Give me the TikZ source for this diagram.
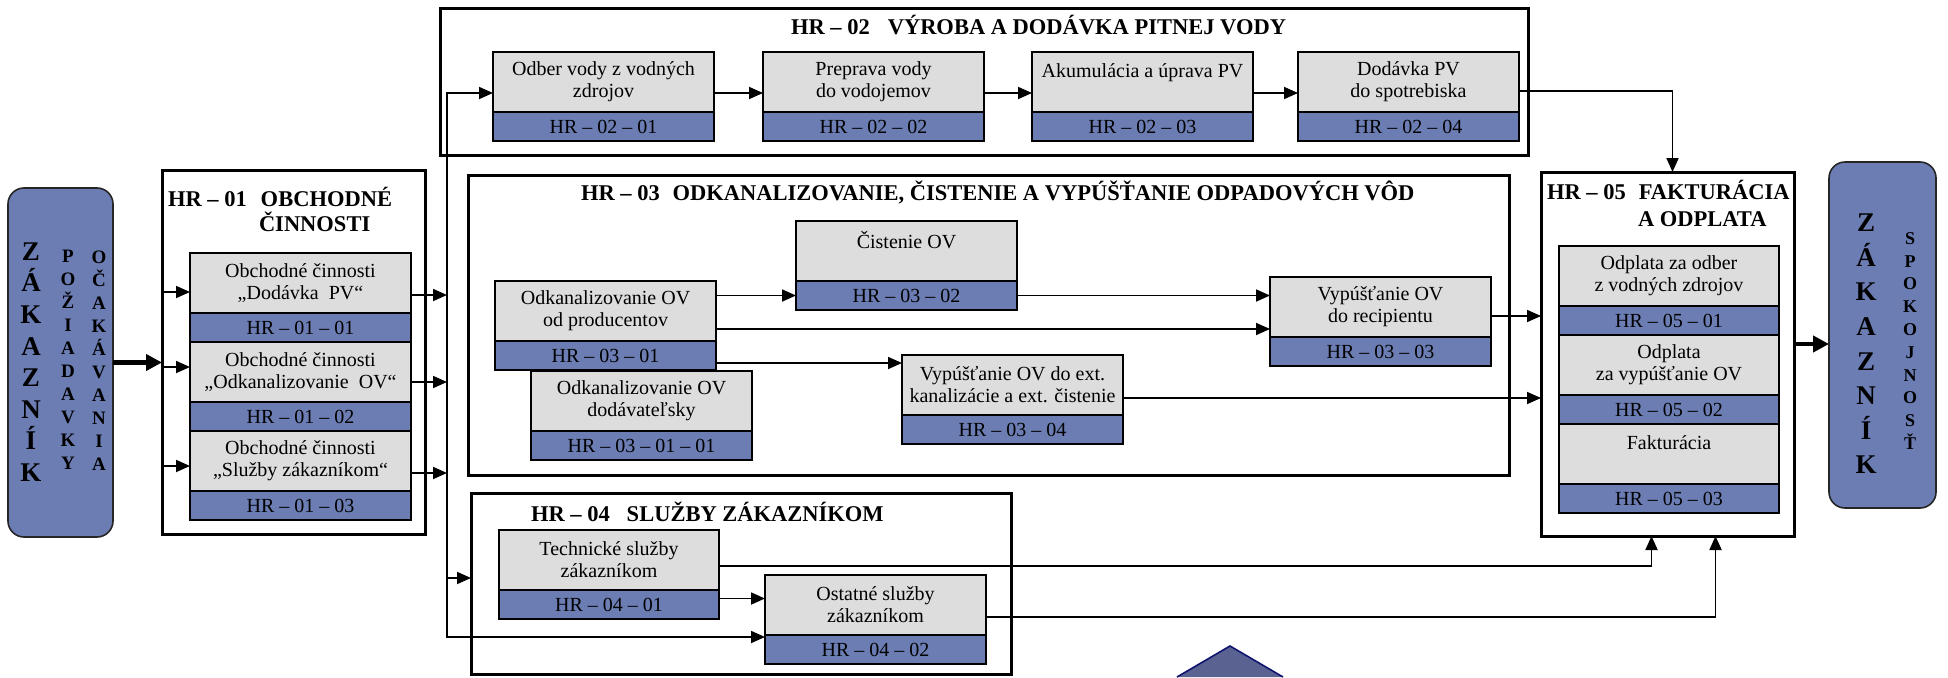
\documentclass[tikz,border=0pt]{standalone}
\usepackage{fontspec}
\setmainfont{Liberation Serif}
\usetikzlibrary{arrows.meta}

\definecolor{boxgray}{RGB}{221,221,221}
\definecolor{boxblue}{RGB}{107,125,179}
\definecolor{trifill}{RGB}{90,98,145}
\definecolor{triline}{RGB}{16,20,110}

\newcommand{\txtfont}{\fontsize{20}{22}\selectfont}
\newcommand{\ttlfont}{\fontsize{22.5}{26}\selectfont\bfseries}

\begin{document}
\begin{tikzpicture}[x=1pt,y=-1pt,
  every node/.style={outer sep=0pt},
  conn/.style={line width=1.8pt,-{Triangle[length=14pt,width=12pt]}},
  fat/.style={line width=4.5pt,-{Triangle[length=16pt,width=16pt]}},
  grp/.style={draw,line width=3pt,anchor=north west,inner sep=0pt},
  cust/.style={draw=black!85,line width=1.6pt,fill=boxblue,rounded corners=16pt,anchor=north west,inner sep=0pt},
  gbox/.style={draw,line width=1.5pt,fill=boxgray,anchor=north west,minimum width=221pt,minimum height=60pt,align=center,inner sep=2pt,font=\txtfont},
  bbox/.style={draw,line width=1.5pt,fill=boxblue,anchor=north,minimum width=221pt,minimum height=29pt,inner sep=0pt,font=\txtfont},
  ttl/.style={anchor=base west,inner sep=0pt,font=\ttlfont},
  bigcol/.style={align=center,inner sep=0pt,font=\fontsize{27}{31.6}\selectfont\bfseries},
  smallcol/.style={align=center,inner sep=0pt,font=\fontsize{19}{23}\selectfont\bfseries}]
\useasboundingbox (0,0) rectangle (1948,677);

% zakaznik
\node[cust,minimum width=105pt,minimum height=349pt] (kz1) at (8,188) {};
\node[bigcol] (kz1a) at (31,362) {Z\\Á\\K\\A\\Z\\N\\Í\\K};
\node[smallcol] (kz1b) at (68,360) {P\\O\\Ž\\I\\A\\D\\A\\V\\K\\Y};
\node[smallcol] (kz1c) at (99,361) {O\\Č\\A\\K\\Á\\V\\A\\N\\I\\A};
\node[cust,minimum width=107pt,minimum height=346pt] (kz2) at (1829,162) {};
\node[bigcol,font=\fontsize{27}{34.6}\selectfont\bfseries] (kz2a) at (1866,344) {Z\\Á\\K\\A\\Z\\N\\Í\\K};
\node[smallcol,font=\fontsize{18}{22.8}\selectfont\bfseries] (kz2b) at (1910,341) {S\\P\\O\\K\\O\\J\\N\\O\\S\\Ť};

% hlavne procesy
\node[grp,minimum width=263pt,minimum height=364pt] (hr01) at (162,170) {};
\node[grp,minimum width=1088pt,minimum height=146pt] (hr02) at (440,9) {};
\node[grp,minimum width=1041pt,minimum height=300pt] (hr03) at (468,175) {};
\node[grp,minimum width=540pt,minimum height=181pt] (hr04) at (471,493) {};
\node[grp,minimum width=253pt,minimum height=364pt] (hr05) at (1541,172) {};

\node[ttl] (t01a) at (168,206) {HR – 01\hspace{14pt}OBCHODNÉ};
\node[ttl] (t01b) at (259,231) {ČINNOSTI};
\node[ttl] (t02) at (791,35) {HR – 02\hspace{18pt}VÝROBA A DODÁVKA PITNEJ VODY};
\node[ttl] (t03) at (581,200) {HR – 03\hspace{13pt}ODKANALIZOVANIE, ČISTENIE A VYPÚŠŤANIE ODPADOVÝCH VÔD};
\node[ttl] (t04) at (531,521) {HR – 04\hspace{17pt}SLUŽBY ZÁKAZNÍKOM};
\node[ttl] (t05a) at (1547,199) {HR – 05\hspace{13pt}FAKTURÁCIA};
\node[ttl] (t05b) at (1638,226) {A ODPLATA};

% HR-01
\node[gbox] (g0101) at (190,253) {Obchodné činnosti\\„Dodávka\ \ PV“};
\node[bbox] (n0101) at (g0101.south) {HR – 01 – 01};
\node[gbox] (g0102) at (190,342) {Obchodné činnosti\\„Odkanalizovanie\ \ OV“};
\node[bbox] (n0102) at (g0102.south) {HR – 01 – 02};
\node[gbox] (g0103) at (190,431) {Obchodné činnosti\\„Služby zákazníkom“};
\node[bbox] (n0103) at (g0103.south) {HR – 01 – 03};

% HR-02
\node[gbox] (g0201) at (493,52) {Odber vody z vodných\\zdrojov};
\node[bbox] (n0201) at (g0201.south) {HR – 02 – 01};
\node[gbox] (g0202) at (763,52) {Preprava vody\\do vodojemov};
\node[bbox] (n0202) at (g0202.south) {HR – 02 – 02};
\node[gbox] (g0203) at (1032,52) {Akumulácia a úprava PV\\~};
\node[bbox] (n0203) at (g0203.south) {HR – 02 – 03};
\node[gbox] (g0204) at (1298,52) {Dodávka PV\\do spotrebiska};
\node[bbox] (n0204) at (g0204.south) {HR – 02 – 04};

% HR-03
\node[gbox] (g0301) at (495,281) {Odkanalizovanie OV\\od producentov};
\node[bbox] (n0301) at (g0301.south) {HR – 03 – 01};
\node[gbox] (g030101) at (531,371) {Odkanalizovanie OV\\dodávateľsky};
\node[bbox] (n030101) at (g030101.south) {HR – 03 – 01 – 01};
\node[gbox] (g0302) at (796,221) {Čistenie OV\\~};
\node[bbox] (n0302) at (g0302.south) {HR – 03 – 02};
\node[gbox] (g0303) at (1270,277) {Vypúšťanie OV\\do recipientu};
\node[bbox] (n0303) at (g0303.south) {HR – 03 – 03};
\node[gbox] (g0304) at (902,355) {Vypúšťanie OV do ext.\\kanalizácie a ext. čistenie};
\node[bbox] (n0304) at (g0304.south) {HR – 03 – 04};

% HR-04
\node[gbox,minimum width=220pt] (g0401) at (499,530) {Technické služby\\zákazníkom};
\node[bbox,minimum width=220pt] (n0401) at (g0401.south) {HR – 04 – 01};
\node[gbox] (g0402) at (765,575) {Ostatné služby\\zákazníkom};
\node[bbox] (n0402) at (g0402.south) {HR – 04 – 02};

% HR-05
\node[gbox,minimum width=220pt] (g0501) at (1559,246) {Odplata za odber\\z vodných zdrojov};
\node[bbox,minimum width=220pt] (n0501) at (g0501.south) {HR – 05 – 01};
\node[gbox,minimum width=220pt] (g0502) at (1559,335) {Odplata\\za vypúšťanie OV};
\node[bbox,minimum width=220pt] (n0502) at (g0502.south) {HR – 05 – 02};
\node[gbox,minimum width=220pt] (g0503) at (1559,424) {Fakturácia\\~};
\node[bbox,minimum width=220pt] (n0503) at (g0503.south) {HR – 05 – 03};

% vstup a vystup
\draw[fat] (kz1.east) -- (kz1.east -| hr01.west);
\draw[fat] ([yshift=10pt]hr05.east) -- ([yshift=10pt]hr05.east -| kz2.west);

% rozvod
\coordinate (tk1) at (447,93);
\coordinate (tk2) at (447,637);
\coordinate (tk3) at (447,578);
\draw[conn] ([yshift=-9pt]g0101.west -| hr01.west) -- ([yshift=-9pt]g0101.west);
\draw[conn] ([yshift=5pt]g0102.west -| hr01.west) -- ([yshift=5pt]g0102.west);
\draw[conn] ([yshift=-5pt]g0103.west -| hr01.west) -- ([yshift=-5pt]g0103.west);
\draw[conn] ([yshift=-12pt]g0101.east) -- ([yshift=-12pt]g0101.east -| tk1);
\draw[conn] ([yshift=-10pt]g0102.east) -- ([yshift=-10pt]g0102.east -| tk1);
\draw[conn] ([yshift=-12pt]g0103.east) -- ([yshift=-12pt]g0103.east -| tk1);
\draw[conn] (tk2) -- (tk1) -- (tk1 -| g0201.west);
\draw[conn] (tk1) -- (tk2) -- (tk2 -| g0402.west);
\draw[conn] (tk3) -- (tk3 -| hr04.west);

% HR-02
\draw[conn] ([yshift=-11pt]g0201.east) -- ([yshift=-11pt]g0202.west);
\draw[conn] ([yshift=-11pt]g0202.east) -- ([yshift=-11pt]g0203.west);
\draw[conn] ([yshift=-11pt]g0203.east) -- ([yshift=-11pt]g0204.west);
\draw[conn] ([yshift=-9pt]g0204.east) -| ([xshift=5pt]hr05.north);

% HR-03
\draw[conn] (g0301.east |- n0302.west) -- (n0302.west);
\draw[conn] (n0302.east) -- (n0302.east -| g0303.west);
\draw[conn] ([yshift=-18pt]g0301.east) -- ([yshift=-18pt]g0301.east -| g0303.west);
\draw[conn] ([yshift=-7.5pt]n0301.east) -- ([yshift=-7.5pt]n0301.east -| g0304.west);
\draw[conn] ([yshift=-9pt]g0303.east) -- ([yshift=-9pt]g0303.east -| hr05.west);
\draw[conn] ([yshift=-13pt]g0304.east) -- ([yshift=-13pt]g0304.east -| hr05.west);

% HR-04
\draw[conn] ([yshift=6pt]n0401.east) -- ([yshift=6pt]n0401.east -| g0402.west);
\draw[conn] ([yshift=-6pt]g0401.east) -| ([xshift=-16pt]hr05.south);
\draw[conn] ([yshift=-12pt]g0402.east) -| ([xshift=48pt]hr05.south);

\filldraw[fill=trifill,draw=triline,line width=1.6pt] (1177,677) -- (1230,646) -- (1283,677);
\end{tikzpicture}
\end{document}
